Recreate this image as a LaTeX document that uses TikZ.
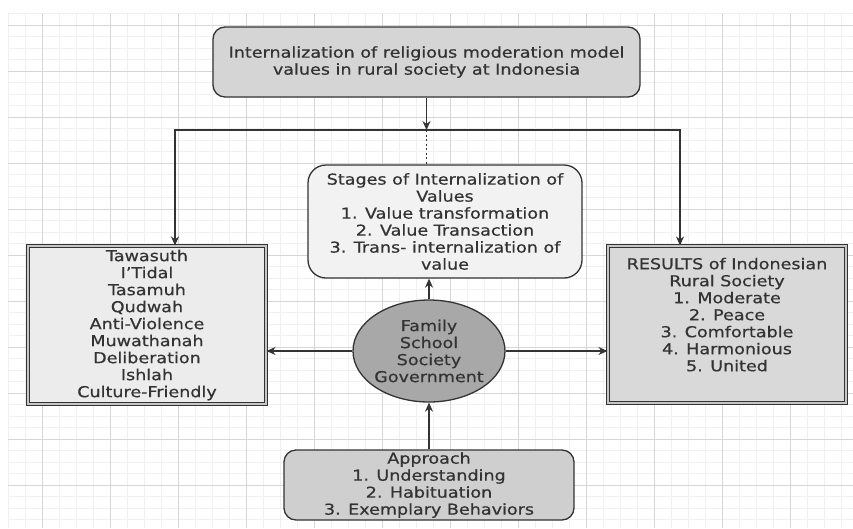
\documentclass[tikz,border=0pt]{standalone}
\usepackage{fontspec}
\setmainfont[FakeStretch=1.17, FakeBold=0.6]{DejaVu Sans}
\usetikzlibrary{shapes.geometric, arrows.meta}

\definecolor{ink}{HTML}{333333}
\definecolor{gridmaj}{HTML}{D6D6D6}
\definecolor{gridmin}{HTML}{F0F0F0}

\tikzset{
    box/.style={draw=ink, line width=1.3pt, align=center, text=ink, inner sep=0pt,
        font=\fontsize{15}{17}\selectfont},
    roundbox/.style={box, rounded corners=12pt},
    framebox/.style={box, line width=1.1pt, double=gray!45, double distance=1.6pt},
    link/.style={draw=ink, line width=1.3pt},
    arr/.style={link, -{Stealth[length=9pt, width=8pt]}}
}

\begin{document}
\begin{tikzpicture}[x=1pt, y=-1pt]
    \useasboundingbox (0,0) rectangle (853,528);
    \fill[white] (0,0) rectangle (853,528);

    % Grid
    \foreach \gx in {8,25,...,853} \draw[gridmin, line width=0.6pt] (\gx,13.5) -- (\gx,528);
    \foreach \gy in {13.5,25,...,528} \draw[gridmin, line width=0.6pt] (8,\gy) -- (853,\gy);
    \foreach \gx in {42,110,...,853} \draw[gridmaj, line width=0.8pt] (\gx,13.5) -- (\gx,528);
    \foreach \gy in {25,71,...,528} \draw[gridmaj, line width=0.8pt] (8,\gy) -- (853,\gy);

    % Boxes
    \node[roundbox, fill=gray!33, minimum width=427pt, minimum height=70pt] (model) at (426.5,62)
        {Internalization of religious moderation model\\values in rural society at Indonesia};
    \node[roundbox, rounded corners=18pt, fill=gray!10, minimum width=274pt, minimum height=113pt] (stages) at (445,221.5)
        {Stages of Internalization of\\Values\\1. Value transformation\\2. Value Transaction\\3. Trans- internalization of\\value};
    \node[box, ellipse, inner sep=-30pt, fill=gray!68, minimum width=152pt, minimum height=102pt] (actors) at (429,351)
        {Family\\School\\Society\\Government};
    \node[framebox, fill=gray!15, minimum width=238pt, minimum height=158pt] (values) at (147,325)
        {Tawasuth\\I'Tidal\\Tasamuh\\Qudwah\\Anti-Violence\\Muwathanah\\Deliberation\\Ishlah\\Culture-Friendly};
    \node[framebox, fill=gray!30, minimum width=238pt, minimum height=157pt, text depth=20pt] (results) at (727,324.5)
        {RESULTS of Indonesian\\Rural Society\\1. Moderate\\2. Peace\\3. Comfortable\\4. Harmonious\\5. United};
    \node[roundbox, fill=gray!38, minimum width=290pt, minimum height=70pt] (approach) at (429,485)
        {Approach\\1. Understanding\\2. Habituation\\3. Exemplary Behaviors};

    % Connectors
    \coordinate (split) at (model.south |- 0,130);
    \coordinate (splitl) at (175,130);
    \coordinate (splitr) at (680,130);
    \draw[arr] (model.south) -- (split);
    \draw[arr] (split) -- (splitl) -- (splitl |- values.north);
    \draw[arr] (split) -- (splitr) -- (splitr |- results.north);
    \draw[link, line width=1.8pt, dash pattern=on 2pt off 2.5pt] (split) -- (split |- stages.north);

    \draw[arr] (actors.north) -- (actors.north |- stages.south);
    \draw[arr] (actors.west) -- (values.east |- actors.west);
    \draw[arr] (actors.east) -- (results.west |- actors.east);
    \draw[arr] (approach.north) -- (actors.south);
\end{tikzpicture}
\end{document}
